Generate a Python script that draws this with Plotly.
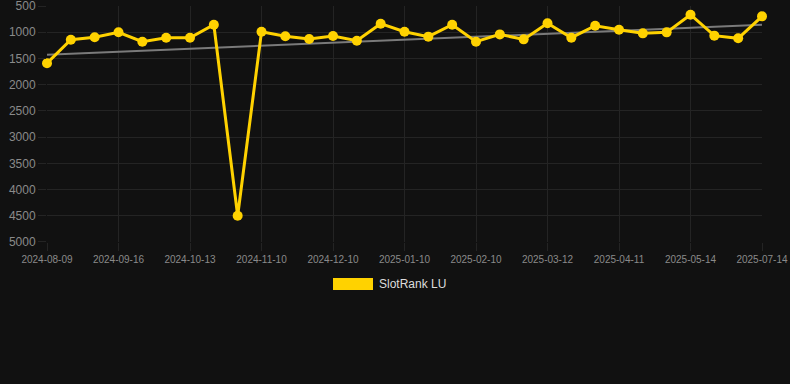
import numpy as np
import plotly.graph_objects as go

dates = [
    "2024-08-09", "2024-08-22", "2024-09-03", "2024-09-16", "2024-09-25",
    "2024-10-04", "2024-10-13", "2024-10-22", "2024-11-01", "2024-11-10",
    "2024-11-20", "2024-11-30", "2024-12-10", "2024-12-20", "2024-12-31",
    "2025-01-10", "2025-01-20", "2025-01-31", "2025-02-10", "2025-02-20",
    "2025-03-02", "2025-03-12", "2025-03-22", "2025-04-01", "2025-04-11",
    "2025-04-22", "2025-05-03", "2025-05-14", "2025-06-01", "2025-06-20",
    "2025-07-14",
]
rank = [
    1590, 1142, 1097, 1000, 1180, 1104, 1104, 856, 4500, 990,
    1078, 1129, 1072, 1161, 837, 990, 1084, 856, 1180, 1041,
    1136, 830, 1104, 875, 952, 1021, 1002, 665, 1065, 1116,
    697,
]
tick_dates = dates[::3]
y_ticks = [500, 1000, 1500, 2000, 2500, 3000, 3500, 4000, 4500, 5000]
series_name = "SlotRank LU"

idx = np.arange(len(rank))
slope, intercept = np.polyfit(idx, rank, 1)
trend = intercept + slope * idx

W, H = 790, 384
L, R, T, B = 47, 762, 6, 242

fig = go.Figure()
fig.add_trace(go.Scatter(
    x=dates, y=trend, mode="lines",
    line=dict(color="#7a7a7a", width=2),
    hoverinfo="skip", showlegend=False, cliponaxis=False,
))
fig.add_trace(go.Scatter(
    x=dates, y=rank, mode="lines+markers", name=series_name,
    line=dict(color="#FFD200", width=3),
    marker=dict(color="#FFD200", size=10),
    showlegend=False, cliponaxis=False,
))

grid = "#242424"
fig.update_xaxes(
    type="category", range=[0, len(dates) - 1],
    tickmode="array", tickvals=tick_dates, ticktext=tick_dates,
    showgrid=True, gridcolor=grid, gridwidth=1,
    ticks="outside", ticklen=8, tickcolor=grid,
    tickfont=dict(family="Liberation Sans, Arial", size=10, color="#8a8a8a"),
    zeroline=False, showline=False, automargin=False, ticklabeloverflow="allow",
)
fig.update_yaxes(
    range=[5000.5, 499.5], tickmode="array", tickvals=y_ticks,
    showgrid=True, gridcolor=grid, gridwidth=1,
    ticks="outside", ticklen=8, tickcolor=grid,
    tickfont=dict(family="Liberation Sans, Arial", size=12, color="#8a8a8a"),
    zeroline=False, showline=False, automargin=False, ticklabeloverflow="allow",
)

ph = B - T
pw = R - L
def px_x(x):
    return (x - L) / pw
def px_y(y):
    return (B - y) / ph

fig.add_shape(type="rect", xref="paper", yref="paper",
              x0=px_x(333), x1=px_x(373), y0=px_y(290), y1=px_y(278),
              fillcolor="#FFD200", line=dict(width=0))
fig.add_annotation(xref="paper", yref="paper", x=px_x(377), y=px_y(284),
                   text=series_name, showarrow=False, xanchor="left", yanchor="middle",
                   font=dict(family="Liberation Sans, Arial", size=12, color="#dddddd"))

fig.update_layout(
    width=W, height=H, autosize=False,
    margin=dict(l=L, r=W - R, t=T, b=H - B, pad=0, autoexpand=False),
    paper_bgcolor="#111111", plot_bgcolor="#111111",
    showlegend=False,
)
fig.write_html(
    "out.html",
    config={"displayModeBar": False},
    post_script="document.body.style.margin='0';document.body.style.overflow='hidden';document.body.style.background='#111111';",
)
